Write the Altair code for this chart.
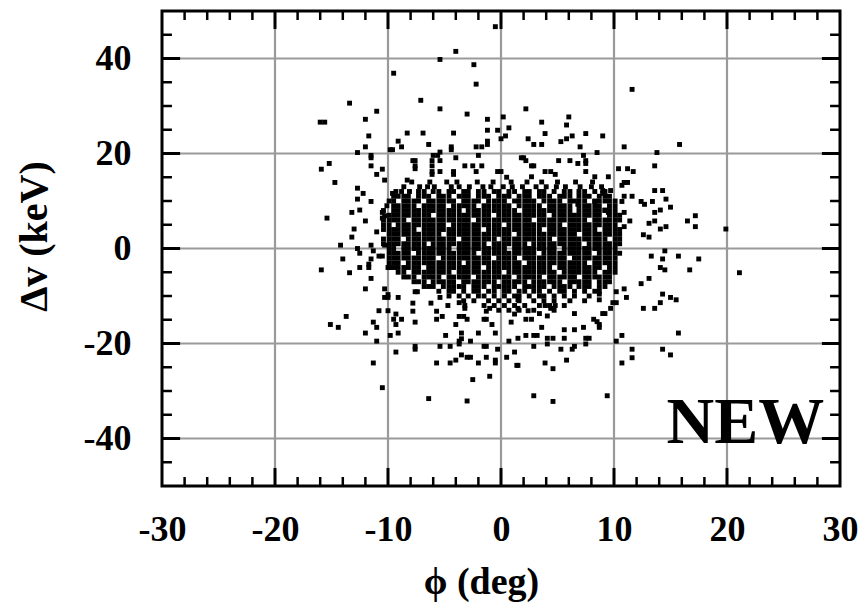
import altair as alt
import pandas as pd

# ---- isolated points (phi in deg, dv in keV) ----
phi_out = [-0.5,-4.0,-5.4,-2.4,-9.5,-2.2,-7.1,-13.4,-5.4,-11.0,-3.0,-16.0,-15.6,-12.0,-1.2,0.2,0.7,-0.3,-1.2,0.4,
           0.0,-11.7,-8.3,-6.9,-4.2,-9.1,-8.8,-6.4,-12.0,-4.4,-4.4,-2.2,-1.7,-1.2,-1.2,-12.7,-9.8,-9.6,-11.5,-11.5,
           -5.4,-5.6,-6.0,-5.4,-6.1,-4.0,-2.0,-15.2,-15.9,-7.8,-7.6,-7.6,-7.6,-11.5,-10.5,-11.0,-10.3,-6.1,-6.1,-6.1,
           -5.4,-3.2,-2.5,-2.2,-1.7,-4.2,-4.2,-0.3,0.0,0.5,1.8,-14.7,-8.3,-12.7,-12.2,-12.7,-11.5,-9.6,-13.2,-12.5,
           -15.4,-12.0,-13.0,-13.2,-11.0,-10.5,-10.5,-10.3,
           11.6,2.2,6.0,3.6,5.8,3.9,7.5,9.0,2.4,2.9,3.6,5.3,5.8,6.3,7.0,8.5,10.9,15.8,13.8,13.6,
           7.3,7.5,7.5,6.8,5.1,6.1,2.0,2.2,2.7,2.9,10.4,11.2,11.7,7.5,8.3,9.5,2.7,3.9,4.4,4.8,
           10.9,11.2,10.7,9.0,9.7,9.0,13.6,14.3,11.6,10.9,10.7,12.4,12.7,13.4,14.6,15.0,14.1,13.6,10.9,11.4,
           13.6,13.1,10.9,14.1,14.6,17.2,16.5,17.2,19.9,12.6,13.1,9.2,9.5,8.3,6.8,
           15.7,17.5,16.7,21.1,13.3,14.3,14.5,14.1,14.5,13.1,12.4,14.3,15.0,15.5,14.1,12.6,13.6,11.1,10.9,10.2,
           10.2,15.7,10.7,10.2,11.6,11.6,10.7,14.3,15.0,9.4,2.9,4.6,3.9,4.6,5.8,1.5,2.9,5.3,6.3,6.5,
           7.5,4.1,4.1,4.6,5.6,5.6,2.2,2.9,3.2,6.5,7.3,7.5,7.8,8.7,6.5,8.7,8.7,9.0,9.2,9.7,
           9.9,8.2,8.5,8.7,3.9,4.8,4.4,3.4,4.1,3.6,2.7,2.2,1.5,1.5,2.4,
           -14.2,-12.7,-12.5,-11.5,-11.3,-10.3,-14.0,-15.9,-13.4,-11.5,-11.7,-12.5,-11.7,-10.8,-10.5,-10.0,-9.8,-11.5,-12.0,-10.3,
           -10.0,-10.3,-10.0,-9.1,-10.8,-10.0,-13.7,-15.1,-14.4,-11.3,-11.0,-12.0,-9.8,-9.3,-9.5,-9.3,-8.8,-9.1,-11.0,-9.3,
           -11.3,-10.5,-6.4,-3.0,-7.8,-7.8,-7.6,-7.6,-7.4,-6.2,-5.7,-5.2,-5.7,-5.4,-4.7,-4.0,-4.9,-7.6,-7.6,-5.4,
           -4.5,-5.7,-4.5,-4.0,-3.7,-3.2,-3.2,-3.7,-3.3,-3.0,-3.5,-3.5,-3.7,-3.7,-2.7,-3.5,-3.0,-2.7,-2.0,-2.5,
           -2.0,-1.5,-1.3,-1.3,-1.0,-0.8,-0.5,-1.5,-1.3,-1.3,-0.5,-0.5,-1.0,-0.3,0.5,0.7,1.2,1.4,1.5,0.9,1.2]
dv_out = [46.7,41.5,39.8,38.7,36.9,34.6,31.2,30.6,29.4,28.9,28.3,26.6,26.6,27.2,27.2,27.7,25.4,24.9,24.9,23.7,
          23.1,23.7,24.3,24.3,24.3,22.6,21.4,21.9,21.4,21.4,20.8,21.4,21.4,21.9,22.6,20.2,20.8,20.8,19.6,19.1,
          20.3,19.6,19.6,18.5,18.5,19.1,19.6,17.9,16.7,18.5,18.5,17.4,16.8,17.4,16.7,15.6,14.4,17.4,16.2,15.6,
          16.2,17.4,17.4,16.2,17.4,16.2,15.6,16.2,16.2,15.0,19.1,13.9,14.4,12.7,11.6,10.4,9.9,11.6,7.6,8.1,
          6.4,5.8,4.1,2.4,3.5,7.6,6.4,6.9,
          33.5,29.4,27.7,26.6,26.0,24.2,24.2,23.7,23.1,21.9,21.9,22.5,23.1,23.7,21.4,20.2,21.4,21.9,20.2,17.4,
          19.6,18.5,17.9,17.9,18.5,18.5,19.1,18.5,17.4,17.4,16.8,16.8,16.2,16.2,15.1,15.1,15.1,16.2,16.2,15.6,
          13.9,13.9,13.3,12.2,12.2,11.6,12.2,12.2,11.0,11.0,9.9,9.9,9.3,9.9,10.4,8.7,8.1,7.6,7.6,5.8,
          5.8,5.3,4.6,4.1,4.6,6.9,5.8,4.6,4.1,2.9,2.4,8.1,7.6,9.9,9.3,
          -1.6,-2.2,-4.5,-5.1,-1.6,-2.2,-0.5,-4.0,-4.5,-6.3,-7.4,-9.6,-10.3,-10.8,-11.4,-12.6,-12.6,-10.3,-8.5,-9.1,
          -11.4,-17.8,-18.3,-19.5,-21.2,-23.0,-24.1,-21.2,-22.4,-31.0,-31.0,-32.2,-24.1,-25.3,-23.5,-24.6,-20.6,-21.2,-21.2,-20.6,
          -20.1,-20.1,-18.9,-18.9,-18.9,-17.1,-18.3,-18.3,-18.3,-17.1,-16.6,-18.9,-18.9,-16.6,-13.7,-10.8,-9.6,-13.7,-13.7,-12.6,
          -11.4,-14.9,-15.4,-16.0,-12.0,-12.0,-12.6,-13.7,-14.2,-16.6,-14.9,-14.9,-10.8,-12.6,-13.1,
          0.7,0.0,-1.0,0.7,-0.5,0.7,-2.2,-4.5,-5.1,-2.2,-3.3,-4.0,-4.0,-1.6,-1.6,-4.0,-4.0,-6.3,-8.5,-8.5,
          -9.7,-10.3,-10.3,-10.3,-13.1,-13.1,-14.3,-16.0,-16.6,-15.5,-16.6,-17.8,-18.3,-13.8,-14.9,-16.0,-14.9,-17.8,-19.5,-21.8,
          -24.1,-29.3,-31.6,-32.1,-11.5,-13.2,-15.5,-9.1,-9.1,-11.5,-13.2,-14.3,-14.9,-10.3,-12.0,-16.0,-18.3,-20.6,-21.2,-20.6,
          -20.6,-24.1,-24.1,-23.5,-11.4,-12.0,-12.6,-14.3,-14.3,-14.9,-17.8,-19.0,-19.5,-20.1,-19.5,-22.4,-22.9,-22.9,-24.1,-27.6,
          -17.8,-14.9,-14.9,-13.2,-12.6,-16.0,-17.8,-20.6,-20.6,-22.9,-23.5,-24.1,-26.9,-21.2,-22.9,-19.5,-21.8,-24.6,-18.9,-15.5,-13.8]

# ---- dense core, one row of phi values per dv level ----
core_dv = [14, 13, 12, 11, 10, 9, 8, 7, 6, 5, 4, 3, 2, 1, 0, -1, -2, -3, -4, -5, -6, -7, -8, -9, -10, -11, -12, -13]
core_phi = [
    [-7.9,-6.3,-4.8,-3.9,-2.1,-0.7,0.9,2.3,3.6,5.0,6.6,8.1],
    [-8.6,-7.2,-6.5,-5.9,-4.4,-3.7,-2.8,-1.6,-0.9,0.2,1.0,1.9,3.1,4.0,4.9,5.7,7.0,8.0,8.9],
    [-9.3,-8.8,-8.1,-7.3,-6.8,-6.0,-5.5,-4.6,-4.2,-3.3,-2.9,-2.0,-1.5,-0.6,-0.2,0.7,1.2,2.1,2.5,3.4,3.8,4.7,5.6,6.1,6.9,7.4,8.3,9.2],
    [-9.5,-9.1,-8.6,-8.2,-7.3,-6.8,-6.4,-5.5,-5.1,-4.6,-3.7,-3.3,-2.9,-2.0,-1.5,-1.1,-0.2,0.3,0.7,1.6,2.1,2.5,3.4,3.8,4.3,5.2,5.6,6.1,6.9,7.4,7.8,8.7,9.2,9.6],
    [-9.9,-9.5,-8.6,-8.2,-7.7,-7.3,-6.4,-6.0,-5.5,-5.1,-4.6,-4.2,-3.3,-2.9,-2.4,-2.0,-1.1,-0.6,-0.2,0.3,1.2,1.6,2.1,2.5,2.9,3.8,4.3,4.7,5.2,6.1,6.5,6.9,7.4,8.3,8.7,9.2,9.6,10.1],
    [-10.1,-9.5,-9.1,-8.6,-8.2,-7.7,-6.8,-6.4,-6.0,-5.5,-5.1,-4.2,-3.7,-3.3,-2.9,-2.4,-1.5,-1.1,-0.6,-0.2,0.3,0.7,1.6,2.1,2.5,2.9,3.4,4.3,4.7,5.2,5.6,6.1,6.9,7.4,7.8,8.3,8.7,9.6,10.1],
    [-10.4,-9.5,-9.1,-8.6,-8.2,-7.7,-7.3,-6.8,-6.4,-6.0,-5.5,-5.1,-4.6,-4.2,-3.7,-2.9,-2.4,-2.0,-1.5,-1.1,-0.6,-0.2,0.3,0.7,1.2,2.1,2.5,2.9,3.4,3.8,4.3,4.7,5.2,5.6,6.1,6.9,7.4,7.8,8.3,8.7,9.2,9.6,10.1],
    [-9.9,-9.5,-9.1,-8.6,-8.2,-7.7,-7.3,-6.8,-6.4,-5.5,-5.1,-4.6,-4.2,-3.7,-3.3,-2.9,-2.4,-2.0,-1.5,-1.1,-0.2,0.3,0.7,1.2,1.6,2.1,2.5,2.9,3.4,3.8,4.7,5.2,5.6,6.1,6.5,6.9,7.4,7.8,8.3,8.7,9.6,10.1,10.5],
    [-10.4,-9.9,-9.5,-9.1,-8.6,-7.7,-7.3,-6.8,-6.4,-6.0,-5.5,-5.1,-4.6,-4.2,-3.7,-3.3,-2.9,-2.0,-1.5,-1.1,-0.6,-0.2,0.3,0.7,1.2,1.6,2.1,2.5,3.4,3.8,4.3,4.7,5.2,5.6,6.1,6.5,6.9,7.4,8.3,8.7,9.2,9.6,10.1,10.5],
    [-10.4,-9.9,-9.1,-8.6,-8.2,-7.7,-7.3,-6.8,-6.4,-6.0,-5.5,-5.1,-4.2,-3.7,-3.3,-2.9,-2.4,-2.0,-1.5,-1.1,-0.6,-0.2,0.7,1.2,1.6,2.1,2.5,2.9,3.4,3.8,4.3,4.7,5.2,6.1,6.5,6.9,7.4,7.8,8.3,8.7,9.2,9.6,10.1],
    [-10.4,-9.9,-9.5,-9.1,-8.6,-8.2,-7.7,-6.8,-6.4,-6.0,-5.5,-5.1,-4.6,-4.2,-3.7,-3.3,-2.9,-2.4,-2.0,-1.1,-0.6,-0.2,0.3,0.7,1.2,1.6,2.1,2.5,2.9,3.4,4.3,4.7,5.2,5.6,6.1,6.5,6.9,7.4,7.8,8.3,9.2,9.6,10.1,10.5],
    [-9.9,-9.5,-9.1,-8.6,-8.2,-7.7,-7.3,-6.8,-6.4,-6.0,-5.5,-4.6,-4.2,-3.7,-3.3,-2.9,-2.4,-2.0,-1.5,-1.1,-0.6,-0.2,0.3,0.7,1.6,2.1,2.5,2.9,3.4,3.8,4.3,4.7,5.2,5.6,6.1,6.5,7.4,7.8,8.3,8.7,9.2,9.6,10.1,10.5],
    [-10.4,-9.9,-9.5,-9.1,-8.2,-7.7,-7.3,-6.8,-6.4,-6.0,-5.5,-5.1,-4.6,-4.2,-3.3,-2.9,-2.4,-2.0,-1.5,-1.1,-0.6,0.3,0.7,1.2,1.6,2.1,2.5,2.9,3.4,3.8,4.3,5.2,5.6,6.1,6.5,6.9,7.4,7.8,8.3,8.7,9.2,10.1,10.5],
    [-10.4,-9.9,-9.5,-9.1,-8.6,-8.2,-7.7,-7.3,-6.8,-6.0,-5.5,-5.1,-4.6,-4.2,-3.7,-3.3,-2.9,-2.4,-2.0,-1.5,-0.6,-0.2,0.3,0.7,1.2,1.6,2.1,2.9,3.4,3.8,4.3,4.7,5.2,5.6,6.1,6.5,6.9,7.8,8.3,8.7,9.2,9.6,10.1,10.5],
    [-9.9,-9.5,-8.6,-8.2,-7.7,-7.3,-6.8,-6.4,-6.0,-5.5,-5.1,-4.6,-3.7,-3.3,-2.9,-2.4,-2.0,-1.5,-1.1,-0.6,-0.2,0.3,1.2,1.6,2.1,2.5,2.9,3.4,3.8,4.3,4.7,5.6,6.1,6.5,6.9,7.4,7.8,8.3,8.7,9.2,9.6,10.1],
    [-9.9,-9.5,-9.1,-8.6,-8.2,-7.3,-6.8,-6.4,-6.0,-5.5,-5.1,-4.6,-4.2,-3.7,-3.3,-2.9,-2.4,-1.5,-1.1,-0.6,-0.2,0.3,0.7,1.2,1.6,2.1,2.5,2.9,3.8,4.3,4.7,5.2,5.6,6.1,6.5,6.9,7.4,7.8,8.7,9.2,9.6,10.1,10.5],
    [-9.9,-9.5,-9.1,-8.6,-8.2,-7.7,-7.3,-6.8,-6.4,-6.0,-5.1,-4.6,-4.2,-3.7,-3.3,-2.9,-2.4,-2.0,-1.5,-1.1,-0.2,0.3,0.7,1.2,2.1,2.5,2.9,3.4,3.8,4.3,4.7,5.2,5.6,6.5,6.9,7.4,7.8,8.3,8.7,9.2,9.6,10.1],
    [-9.9,-9.5,-9.1,-8.2,-7.7,-7.3,-6.8,-6.4,-6.0,-5.5,-5.1,-4.6,-4.2,-3.7,-2.9,-2.4,-2.0,-1.5,-1.1,-0.6,-0.2,0.3,0.7,1.2,1.6,2.5,2.9,3.4,3.8,4.3,4.7,5.2,5.6,6.1,6.5,6.9,7.4,8.3,8.7,9.2,9.6,10.1],
    [-9.5,-9.1,-8.6,-8.2,-7.7,-7.3,-6.4,-6.0,-5.5,-5.1,-4.6,-4.2,-3.7,-3.3,-2.9,-2.4,-2.0,-1.1,-0.6,-0.2,0.3,0.7,1.2,1.6,2.1,2.5,2.9,3.4,3.8,4.3,5.2,5.6,6.1,6.5,6.9,7.4,7.8,8.3,8.7,9.6,10.1],
    [-9.1,-8.6,-7.7,-7.3,-6.8,-6.4,-6.0,-5.5,-5.1,-4.6,-3.7,-3.3,-2.9,-2.4,-2.0,-1.5,-1.1,-0.6,-0.2,0.7,1.2,1.6,2.1,2.5,2.9,3.4,3.8,4.3,4.7,5.6,6.1,6.5,6.9,7.4,7.8,8.3,9.2,9.6,10.1],
    [-8.6,-8.2,-7.7,-6.8,-6.4,-6.0,-5.5,-4.6,-4.2,-3.7,-3.3,-2.9,-2.0,-1.5,-1.1,-0.6,-0.2,0.3,0.7,1.6,2.1,2.5,2.9,3.4,4.3,4.7,5.2,5.6,6.1,6.5,7.4,7.8,8.3,8.7,9.2,9.6],
    [-7.7,-7.3,-6.8,-6.0,-5.5,-5.1,-4.6,-4.2,-3.3,-2.9,-2.4,-2.0,-1.5,-1.1,-0.6,0.3,0.7,1.2,1.6,2.1,2.9,3.4,3.8,4.3,4.7,5.2,6.1,6.5,6.9,7.4,7.8,8.7,9.2,9.6],
    [-6.8,-6.4,-6.0,-5.1,-4.6,-4.2,-3.7,-3.3,-2.4,-2.0,-1.5,-0.6,-0.2,0.3,0.7,1.2,2.1,2.5,2.9,3.4,3.8,4.7,5.2,5.6,6.1,6.9,7.4,7.8,8.7,9.2],
    [-5.5,-4.6,-4.2,-3.3,-2.4,-2.0,-1.1,-0.6,0.3,0.7,1.6,2.1,2.9,3.4,4.3,5.2,5.6,6.5,7.4,8.3,8.7],
    [-4.6,-3.7,-2.9,-2.0,-1.5,-0.6,0.3,1.2,1.6,2.5,3.4,3.8,4.7,5.6,6.5,7.8],
    [-3.3,-2.4,-1.1,-0.2,0.7,1.6,2.9,3.8,4.7,6.1,7.4],
    [-1.5,-0.6,0.3,1.2,2.1,3.4,4.3,5.6],
    [-0.2,0.7,1.6,2.9,4.7],
]

# ---- axes furniture ----
x_labels = [-30, -20, -10, 0, 10, 20, 30]
y_labels = [-40, -20, 0, 20, 40]
x_major = [-20, -10, 0, 10, 20]
x_minor = [-28, -26, -24, -22, -18, -16, -14, -12, -8, -6, -4, -2,
           2, 4, 6, 8, 12, 14, 16, 18, 22, 24, 26, 28]
y_major = [-40, -20, 0, 20, 40]
y_minor = [-45, -35, -30, -25, -15, -10, -5, 5, 10, 15, 25, 30, 35, 45]

XMIN, XMAX, YMIN, YMAX = -30, 30, -50, 50

# build tables (all layers share the column names x / y)
rows = [{"x": p, "y": d} for p, d in zip(phi_out, dv_out)]
for d, plist in zip(core_dv, core_phi):
    rows += [{"x": p, "y": d} for p in plist]
pts = pd.DataFrame(rows)

grid_rows = [{"x": v, "x2": v, "y": YMIN, "y2": YMAX} for v in x_major] + \
            [{"x": XMIN, "x2": XMAX, "y": v, "y2": v} for v in y_major]
grid = pd.DataFrame(grid_rows)

XT_MAJ, XT_MIN = 3.8, 1.9      # tick lengths on x axes (in dv units)
YT_MAJ, YT_MIN = 1.6, 0.88     # tick lengths on y axes (in phi units)
tick_rows = []
for v in x_major:
    tick_rows += [{"x": v, "x2": v, "y": YMIN, "y2": YMIN + XT_MAJ, "w": 3},
                  {"x": v, "x2": v, "y": YMAX, "y2": YMAX - XT_MAJ, "w": 3}]
for v in x_minor:
    tick_rows += [{"x": v, "x2": v, "y": YMIN, "y2": YMIN + XT_MIN, "w": 2.5},
                  {"x": v, "x2": v, "y": YMAX, "y2": YMAX - XT_MIN, "w": 2.5}]
for v in y_major:
    tick_rows += [{"x": XMIN, "x2": XMIN + YT_MAJ, "y": v, "y2": v, "w": 3},
                  {"x": XMAX, "x2": XMAX - YT_MAJ, "y": v, "y2": v, "w": 3}]
for v in y_minor:
    tick_rows += [{"x": XMIN, "x2": XMIN + YT_MIN, "y": v, "y2": v, "w": 2.5},
                  {"x": XMAX, "x2": XMAX - YT_MIN, "y": v, "y2": v, "w": 2.5}]
ticks = pd.DataFrame(tick_rows)

label_df = pd.DataFrame([{"x": 28.6, "y": -41.0, "t": "NEW"}])

FONT = "Liberation Serif"
xscale = alt.Scale(domain=[XMIN, XMAX], nice=False, zero=False)
yscale = alt.Scale(domain=[YMIN, YMAX], nice=False, zero=False)

xaxis = alt.Axis(values=x_labels, grid=False, ticks=False, tickSize=0, domain=False,
                 labelExpr="'' + datum.value",
                 labelFont=FONT, labelFontWeight="bold", labelFontSize=36, labelColor="black",
                 labelPadding=26, labelFlush=False, labelOverlap=False,
                 titleFont=FONT, titleFontWeight="bold", titleFontSize=38,
                 titleColor="black", titleX=319, titleY=107, titleBaseline="alphabetic",
                 titleAlign="center", titleAnchor="start")
yaxis = alt.Axis(values=y_labels, grid=False, ticks=False, tickSize=0, domain=False,
                 labelExpr="'' + datum.value",
                 labelFont=FONT, labelFontWeight="bold", labelFontSize=36, labelColor="black",
                 labelPadding=31, labelFlush=False, labelOverlap=False,
                 titleFont=FONT, titleFontWeight="bold", titleFontSize=40,
                 titleColor="black", titleX=-116, titleY=225, titleBaseline="alphabetic",
                 titleAlign="center", titleAngle=270, titleAnchor="start")

X = alt.X("x:Q", scale=xscale, axis=xaxis, title="ϕ (deg)")
Y = alt.Y("y:Q", scale=yscale, axis=yaxis, title="Δv (keV)")

grid_layer = alt.Chart(grid).mark_rule(color="#9a9a9a", strokeWidth=2.2).encode(
    x=X, x2="x2:Q", y=Y, y2="y2:Q",
)

point_layer = alt.Chart(pts).mark_square(size=24, color="black", opacity=1, strokeWidth=0).encode(
    x=X, y=Y,
)

tick_layer = alt.Chart(ticks).mark_rule(color="black", strokeCap="butt").encode(
    x=X, x2="x2:Q", y=Y, y2="y2:Q",
    strokeWidth=alt.StrokeWidth("w:Q", scale=None, legend=None),
)

text_layer = alt.Chart(label_df).mark_text(
    font=FONT, fontWeight="bold", fontSize=66, align="right", baseline="alphabetic", color="black"
).encode(
    x=X, y=Y, text="t:N",
)

chart = alt.layer(grid_layer, point_layer, tick_layer, text_layer).properties(
    width=678, height=475,
    padding={"left": 162, "top": 11, "right": 25, "bottom": 118},
    autosize=alt.AutoSizeParams(type="none"),
    background="white",
).configure_view(stroke="black", strokeWidth=3, fill="white")

chart.save("out.html", embed_options={"renderer": "svg", "actions": False})
